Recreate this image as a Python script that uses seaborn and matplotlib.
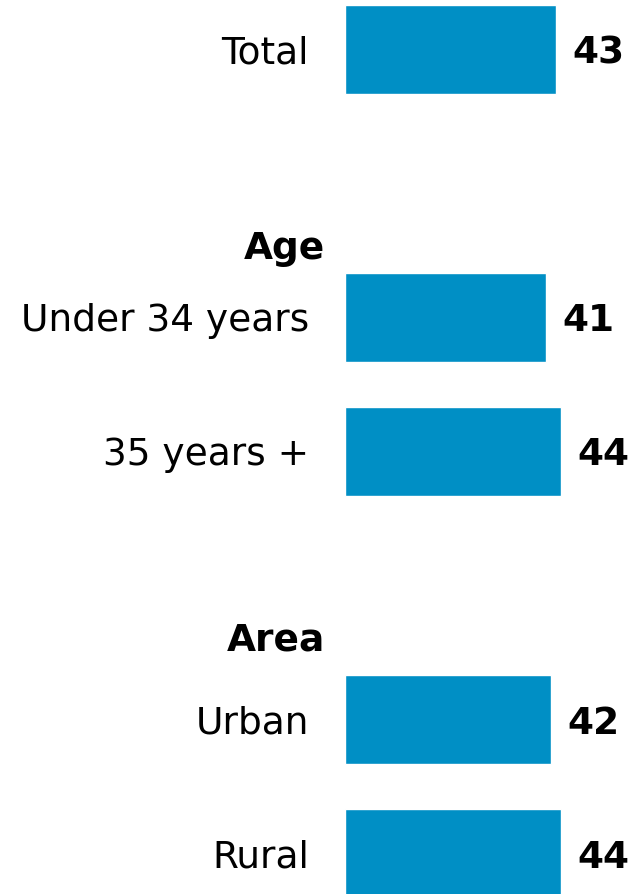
import matplotlib
matplotlib.use("Agg")
import matplotlib.pyplot as plt
import seaborn as sns
import pandas as pd

sns.set_theme(style="white")
plt.rcParams["font.family"] = ["DejaVu Sans"]
plt.rcParams["text.color"] = "black"
plt.rcParams["ytick.color"] = "black"

# data
categories = ["Total", "Under 34 years", "35 years +", "Urban", "Rural"]
values = [43, 41, 44, 42, 44]
# slot order with blank gaps between groups
order = ["Total", "_gap1", "Under 34 years", "35 years +", "_gap2", "Urban", "Rural"]
group_headers = ["Age", "Area"]
header_pos = [1.49, 4.41]

bar_color = "#008FC5"
fs = 27

df = pd.DataFrame({"Category": categories, "Value": values})

fig = plt.figure(figsize=(6.39, 8.94), dpi=100)
ax = fig.add_axes([345 / 639, 0, 294 / 639, 1])

sns.barplot(data=df, y="Category", x="Value", order=order, color=bar_color,
            width=0.664, saturation=1, ax=ax)

ax.set_xlim(0, 294 / 4.91)
ax.set_ylim(6.302, -0.369)
ax.set_xlabel("")
ax.set_ylabel("")
ax.set_xticks([])
ax.set_yticks(range(len(order)))
ax.set_yticklabels([c if not c.startswith("_") else "" for c in order],
                   fontsize=fs, color="black", va="center_baseline")
ax.tick_params(axis="y", length=0, pad=26)
for s in ax.spines.values():
    s.set_visible(False)

for cont in ax.containers:
    labels = ax.bar_label(cont, fmt="%d", padding=11.5, fontsize=fs,
                          fontweight="bold", color="black")
    for t in labels:
        t.set_va("center_baseline")

for h, y in zip(group_headers, header_pos):
    ax.annotate(h, xy=(0, y), xycoords=ax.get_yaxis_transform(),
                xytext=(-14.5, 0), textcoords="offset points",
                ha="right", va="center", fontsize=fs, fontweight="bold",
                color="black")

fig.savefig("out.png", dpi=100)
